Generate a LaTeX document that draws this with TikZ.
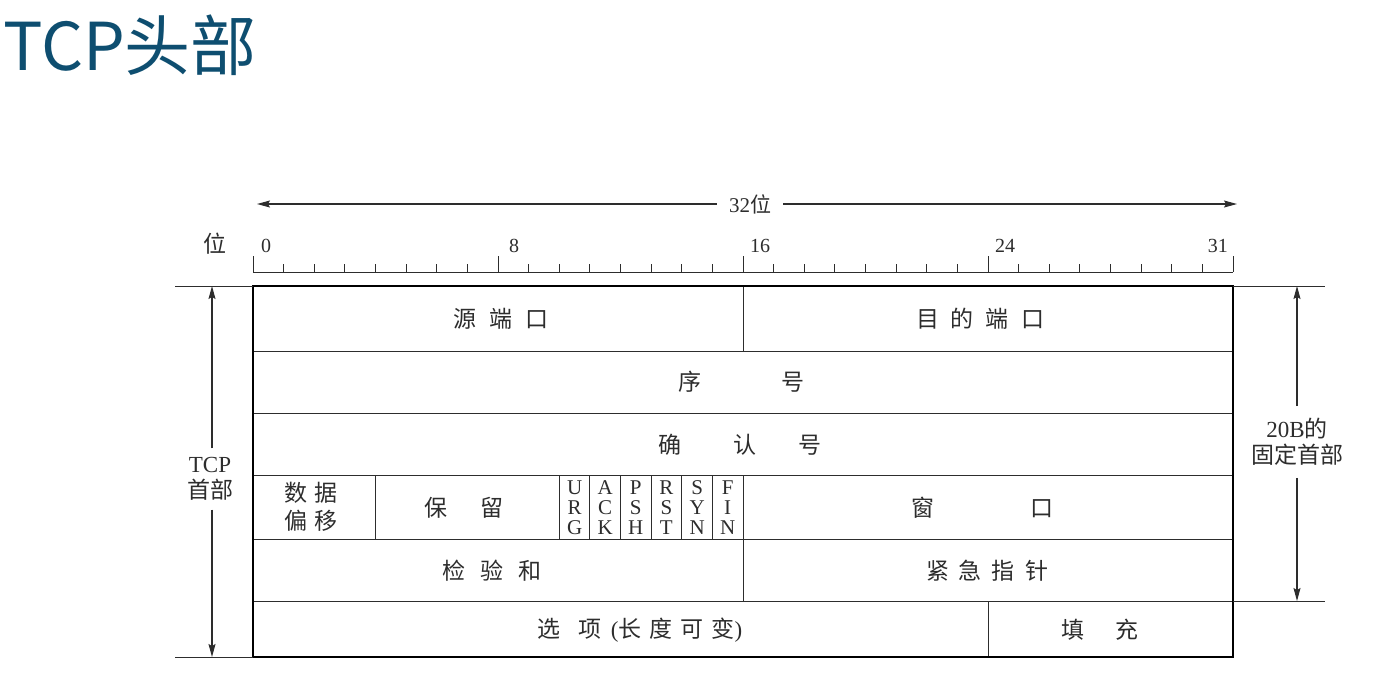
\documentclass[tikz,border=0pt]{standalone}
\usepackage{fontspec}
\setmainfont{Liberation Serif}
\newfontfamily\cjk{Noto Sans CJK SC}
\usetikzlibrary{arrows.meta}
\definecolor{titleblue}{RGB}{14,78,112}
\definecolor{ink}{RGB}{45,45,45}
\newcommand{\fsz}[1]{\fontsize{#1}{#1}\selectfont}
\newcommand{\g}[1]{\hspace{#1pt}}
\begin{document}
\begin{tikzpicture}[x=1pt,y=-1pt,
  frame/.style={line width=1.8pt, draw=black},
  gridline/.style={line width=1pt, draw=ink},
  dim/.style={line width=1.1pt, draw=ink, -{Stealth[length=13pt,width=7pt,inset=2pt]}},
  cell/.style={inner sep=0pt, text=ink, font={\cjk\fsz{23}}},
  flag/.style={inner sep=0pt, text=ink, align=center, font={\fontsize{21}{20}\selectfont}},
  digit/.style={inner sep=0pt, text=ink, font={\fsz{20}}},
  side/.style={inner sep=9pt, text=ink, align=center, font={\fontsize{23}{26}\selectfont}}]
\useasboundingbox (0,0) rectangle (1377,686);

% title
\node[anchor=base west, inner sep=0pt, text=titleblue, font={\cjk\fsz{66}}] (title) at (3,70) {TCP头部};

% 32-bit arrow
\node[inner xsep=12pt, inner ysep=2pt, text=ink, font={\fsz{21}}] (w32) at (750,204) {32{\cjk 位}};
\coordinate (w32l) at (257,204);
\coordinate (w32r) at (1237,204);
\draw[dim] (w32.west) -- (w32l);
\draw[dim] (w32.east) -- (w32r);

% ruler
\node[cell] (wei) at (215,244) {位};
\draw[gridline] (253,272) -- (1233,272);
\foreach \i in {0,...,32}{
  \pgfmathsetmacro\xx{253+\i*30.625}
  \pgfmathtruncatemacro\m{mod(\i,8)}
  \ifnum\m=0 \draw[gridline] (\xx,256) -- (\xx,272);
  \else \draw[gridline] (\xx,264) -- (\xx,272); \fi
}
\node[digit, anchor=base west] (b0) at (261,252) {0};
\node[digit, anchor=base west] (b8) at (509,252) {8};
\node[digit, anchor=base west] (b16) at (750,252) {16};
\node[digit, anchor=base west] (b24) at (995,252) {24};
\node[digit, anchor=base east] (b31) at (1228,252) {31};

% frame and grid
\draw[gridline] (253,351) -- (1233,351);
\draw[gridline] (253,413) -- (1233,413);
\draw[gridline] (253,475) -- (1233,475);
\draw[gridline] (253,539) -- (1233,539);
\draw[gridline] (253,601) -- (1233,601);
\draw[gridline] (743,286) -- (743,351);
\draw[gridline] (743,475) -- (743,601);
\draw[gridline] (375.5,475) -- (375.5,539);
\foreach \k in {10,...,15}{
  \pgfmathsetmacro\xx{253+\k*30.625}
  \draw[gridline] (\xx,475) -- (\xx,539);
}
\draw[gridline] (988,601) -- (988,657);
\draw[frame] (253,286) rectangle (1233,657);

% field labels
\node[cell] (src) at (501,319) {源\g{13}端\g{13}口};
\node[cell] (dst) at (980,319) {目\g{12}的\g{12}端\g{12}口};
\node[cell] (seq) at (741,382) {序\g{80}号};
\node[cell] (ack) at (740,445) {确\g{53}认\g{42}号};
\node[cell, align=center, font={\cjk\fontsize{23}{28}\selectfont}] (off) at (311,507) {数\g{7}据\\偏\g{7}移};
\node[cell] (rsv) at (464,508) {保\g{34}留};
\node[flag] (urg) at (574.6,508) {U\\R\\G};
\node[flag] (ackf) at (605.2,508) {A\\C\\K};
\node[flag] (psh) at (635.8,508) {P\\S\\H};
\node[flag] (rst) at (666.4,508) {R\\S\\T};
\node[flag] (syn) at (697.1,508) {S\\Y\\N};
\node[flag] (fin) at (727.7,508) {F\\I\\N};
\node[cell] (win) at (982,508) {窗\g{96}口};
\node[cell] (chk) at (492,571) {检\g{15}验\g{15}和};
\node[cell] (urp) at (987,571) {紧\g{10}急\g{10}指\g{10}针};
\node[cell] (opt) at (640,630) {选\g{18}项\g{9}{\rmfamily(}长\g{8}度\g{8}可\g{8}变{\rmfamily)}};
\node[cell] (pad) at (1100,630) {填\g{31}充};

% left dimension
\draw[gridline] (175,286) -- (253,286);
\draw[gridline] (175,657) -- (253,657);
\coordinate (lt) at (212,286);
\coordinate (lb) at (212,657);
\node[side] (tcp) at (210,479) {TCP\\{\cjk 首部}};
\draw[dim] (lt |- tcp.north) -- (lt);
\draw[dim] (lb |- tcp.south) -- (lb);

% right dimension
\draw[gridline] (1233,286) -- (1325,286);
\draw[gridline] (1233,601) -- (1325,601);
\coordinate (rt) at (1297,286);
\coordinate (rb) at (1297,601);
\node[side, inner ysep=12pt] (fix) at (1297,442) {20B{\cjk 的}\\{\cjk 固定首部}};
\draw[dim] (rt |- fix.north) -- (rt);
\draw[dim] (rb |- fix.south) -- (rb);
\end{tikzpicture}
\end{document}
